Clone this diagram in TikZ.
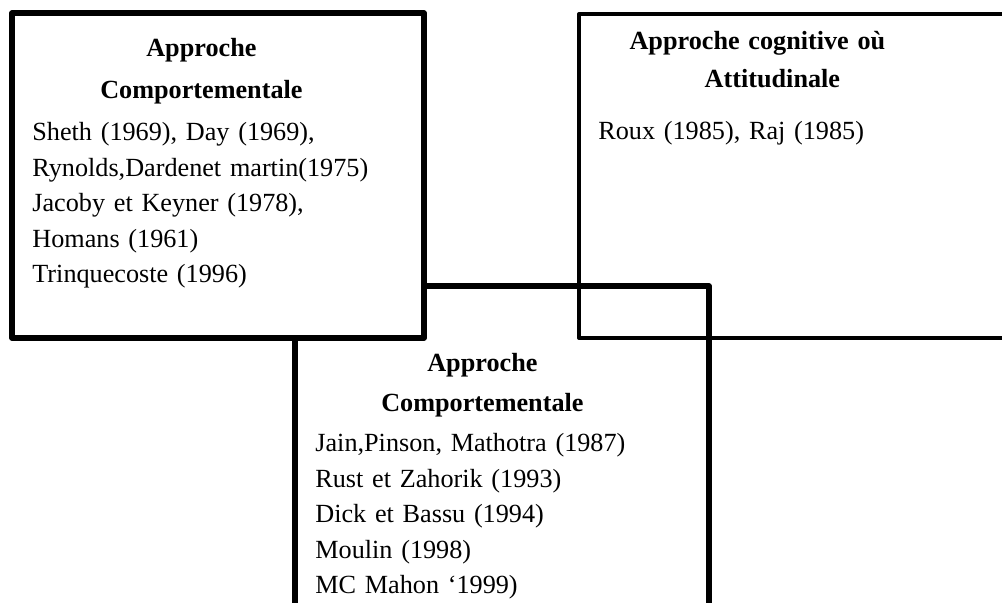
\documentclass[tikz,border=0pt]{standalone}
\usepackage{fontspec}
\setmainfont{Liberation Serif}
\setlength{\parindent}{0pt}

\begin{document}
\begin{tikzpicture}[x=0.5pt, y=-0.5pt,
  approach/.style = {shape=rectangle, draw, line width=2.75pt,
    line join=round, inner sep=0pt},
  refs/.style = {anchor=base west, inner sep=0pt, text width=#1,
    font=\fontsize{13.1pt}{17.75pt}\selectfont}]
  \path[use as bounding box, clip] (0,0) rectangle (1002,603);
  \node[approach, minimum width=207pt, minimum height=207pt] (behav2) at (502,493) {};
  \node[approach, line width=2pt, minimum width=240.5pt, minimum height=162pt] (cogn) at (819.5,176) {};
  \node[approach, fill=white, minimum width=206pt, minimum height=162.5pt] (behav1) at (218,175.5) {};

  \node[refs=169pt] (behav1 text) at (32,57) {%
    {\centering\bfseries Approche\\[3.25pt] Comportementale\par}\vspace{3.25pt}
    \raggedright Sheth (1969), Day (1969),\\
    \mbox{Rynolds,Dardenet martin(1975)}\\
    Jacoby et Keyner (1978),\\
    Homans (1961)\\
    Trinquecoste (1996)};
  \node[refs=167pt] (cogn text) at (598,50) {%
    {\centering\bfseries Approche cognitive où\kern8pt\\[1.25pt]
    \hspace*{7pt}Attitudinale\par}\vspace{8.25pt}
    \raggedright Roux (1985), Raj (1985)};
  \node[refs=167pt] (behav2 text) at (315,372) {%
    {\centering\bfseries Approche\\[2.25pt] Comportementale\par}\vspace{2.25pt}
    \raggedright Jain,Pinson, Mathotra (1987)\\
    Rust et Zahorik (1993)\\
    Dick et Bassu (1994)\\
    Moulin (1998)\\
    MC Mahon ‘1999)};
\end{tikzpicture}
\end{document}
